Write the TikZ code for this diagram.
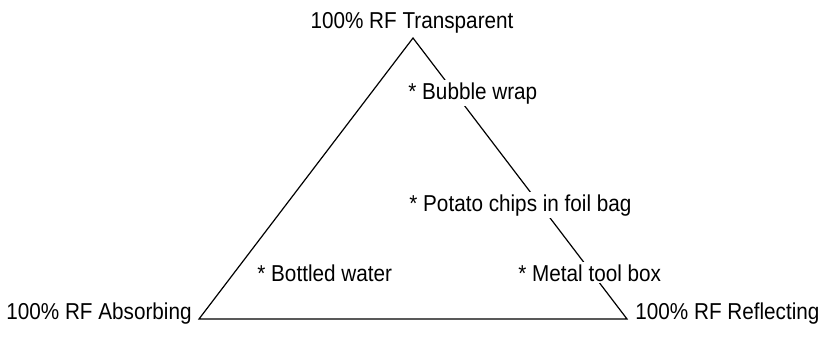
\documentclass[tikz,border=0pt]{standalone}
\usepackage{fontspec}
\setmainfont{Liberation Sans}[FakeStretch=0.9]
\begin{document}
\begin{tikzpicture}[x=0.5pt,y=-0.5pt,
	corner/.style={font=\fontsize{11.5}{13}\selectfont, inner sep=0pt},
	item/.style={font=\fontsize{11.5}{13}\selectfont, fill=white, inner sep=1pt, anchor=base west}]
	\useasboundingbox (0,0) rectangle (819,338);
	%coordinates
	\coordinate (T) at (413,38);
	\coordinate (A) at (199,319);
	\coordinate (R) at (627,319);
	%Triangle
	\draw[line width=0.6pt] (T) -- (R) -- (A) -- cycle;
	%Corners
	\node[corner, anchor=base] (transparent) at (412,28) {100\% RF Transparent};
	\node[corner, anchor=base east] (absorbing) at (192,319) {100\% RF Absorbing};
	\node[corner, anchor=base west] (reflecting) at (635,319) {100\% RF Reflecting};
	%Materials
	\node[item] (bubble) at (406,99) {* Bubble wrap};
	\node[item] (chips) at (407,211) {* Potato chips in foil bag};
	\node[item] (toolbox) at (516,281) {* Metal tool box};
	\node[item] (water) at (255,281) {* Bottled water};
\end{tikzpicture}
\end{document}
